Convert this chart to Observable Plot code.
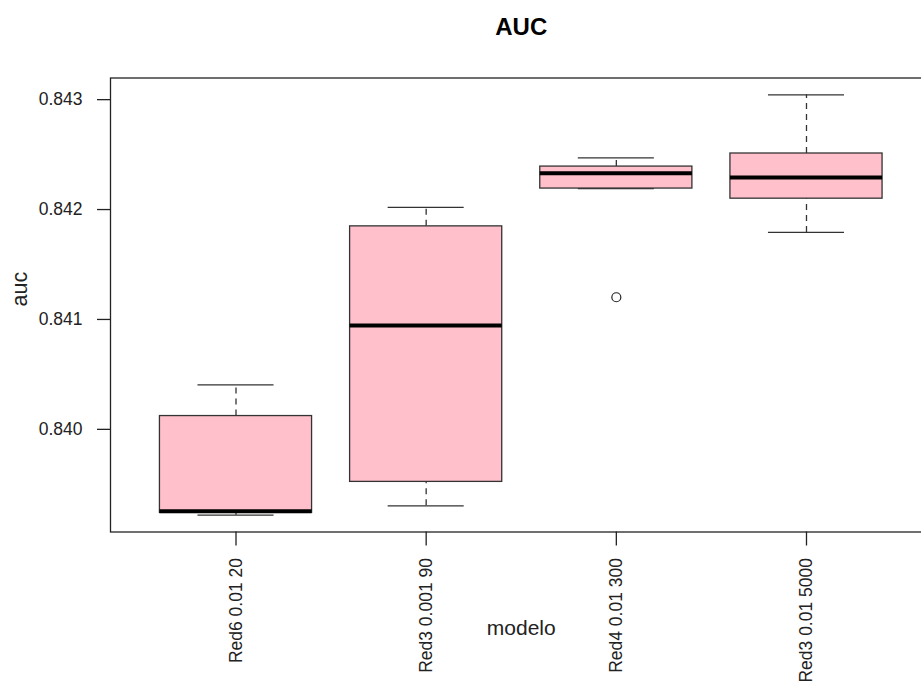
<!DOCTYPE html>
<html>
<head>
<meta charset="utf-8">
<script src="https://cdn.jsdelivr.net/npm/d3@7"></script>
<script src="https://cdn.jsdelivr.net/npm/@observablehq/plot@0.6"></script>
<style>
  html, body { margin: 0; padding: 0; background: #fff; overflow: hidden; }
  #chart { width: 921px; height: 682px; overflow: hidden; }
  svg { font-family: "Liberation Sans", Arial, sans-serif; }
</style>
</head>
<body>
<div id="chart"></div>
<script>
// Data
const modelos = ["Red6 0.01 20", "Red3 0.001 90", "Red4 0.01 300", "Red3 0.01 5000"];
const whiskerLow  = [0.839219, 0.839304, 0.842191, 0.841792];
const q1          = [0.839240, 0.839522, 0.842191, 0.842099];
const median      = [0.839255, 0.840944, 0.842330, 0.842291];
const q3          = [0.840121, 0.841847, 0.842391, 0.842510];
const whiskerHigh = [0.840404, 0.842020, 0.842470, 0.843044];
const outlierModel = ["Red4 0.01 300"];
const outlierAuc   = [0.841202];
const yTicks = [0.840, 0.841, 0.842, 0.843];

const boxes = modelos.map((m, i) => ({
  pos: i + 1, modelo: m,
  lo: whiskerLow[i], q1: q1[i], med: median[i], q3: q3[i], hi: whiskerHigh[i]
}));
const outliers = outlierModel.map((m, i) => ({ pos: modelos.indexOf(m) + 1, auc: outlierAuc[i] }));

const halfBox = 0.4, halfCap = 0.2;

const chart = Plot.plot({
  width: 921,
  height: 682,
  marginLeft: 110,
  marginRight: -10.5,
  marginTop: 77.5,
  marginBottom: 150.5,
  style: { fontFamily: "Liberation Sans, Arial, sans-serif", background: "#fff", overflow: "visible" },
  x: { type: "linear", domain: [0.34, 4.66] },
  y: { domain: [0.839066, 0.843197] },
  marks: [
    // dashed whiskers
    Plot.ruleX(boxes, { x: "pos", y1: "q3", y2: "hi", stroke: "#333", strokeWidth: 1.3, strokeDasharray: "6,5" }),
    Plot.ruleX(boxes, { x: "pos", y1: "lo", y2: "q1", stroke: "#333", strokeWidth: 1.3, strokeDasharray: "6,5" }),
    // whisker caps
    Plot.ruleY(boxes, { y: "hi", x1: d => d.pos - halfCap, x2: d => d.pos + halfCap, stroke: "#333", strokeWidth: 1.3 }),
    Plot.ruleY(boxes, { y: "lo", x1: d => d.pos - halfCap, x2: d => d.pos + halfCap, stroke: "#333", strokeWidth: 1.3 }),
    // boxes
    Plot.rect(boxes, { x1: d => d.pos - halfBox, x2: d => d.pos + halfBox, y1: "q1", y2: "q3", fill: "#FFC0CB", stroke: "#333", strokeWidth: 1.3 }),
    // medians
    Plot.ruleY(boxes, { y: "med", x1: d => d.pos - halfBox, x2: d => d.pos + halfBox, stroke: "#000", strokeWidth: 4 }),
    // outliers
    Plot.dot(outliers, { x: "pos", y: "auc", r: 4.5, stroke: "#222", strokeWidth: 1.2, fill: "none" }),
    // frame
    Plot.frame({ stroke: "#222", strokeWidth: 1.3 }),
    // axes
    Plot.axisY({ ticks: yTicks, tickFormat: d3.format(".3f"), tickSize: 13, tickPadding: 15, fontSize: 17.5, color: "#222", label: null, strokeWidth: 1.3 }),
    Plot.axisX({ ticks: [1, 2, 3, 4], tickFormat: d => modelos[d - 1], tickRotate: -90, tickSize: 14, tickPadding: 12, fontSize: 17.5, color: "#222", label: null, strokeWidth: 1.3 }),
    // titles
    Plot.text(["AUC"], { frameAnchor: "top", x: () => 2.5, dy: -43.5, lineAnchor: "bottom", fontSize: 24, fontWeight: "bold", fill: "#000" }),
    Plot.text(["modelo"], { frameAnchor: "bottom", x: () => 2.5, dy: 102.5, lineAnchor: "bottom", fontSize: 21, fill: "#222" }),
    Plot.text(["auc"], { frameAnchor: "left", dx: -84, dy: 1.5, rotate: -90, lineAnchor: "bottom", fontSize: 21.5, fill: "#222" })
  ]
});
document.getElementById("chart").appendChild(chart);
</script>
</body>
</html>
